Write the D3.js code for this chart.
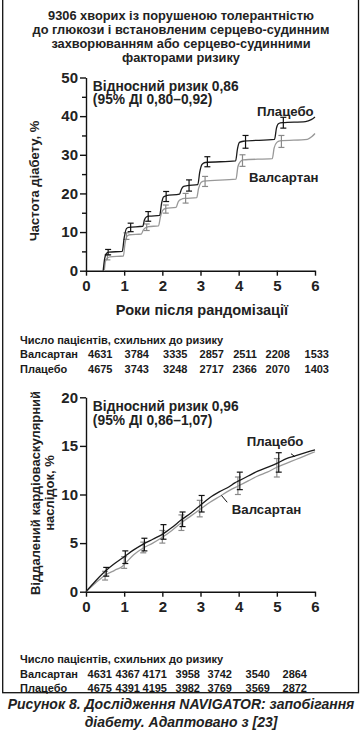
<!DOCTYPE html>
<html>
<head>
<meta charset="utf-8">
<script src="https://cdn.jsdelivr.net/npm/d3@7"></script>
<style>
  body { margin: 0; background: #fff; }
  svg { display: block; font-family: "Liberation Sans", Arial, sans-serif; }
</style>
</head>
<body>
<svg id="chart" width="363" height="730"></svg>
<script>
// ---- data ----
var titleLines = ["9306 хворих із порушеною толерантністю",
                  "до глюкози і встановленим серцево-судинним",
                  "захворюванням або серцево-судинними",
                  "факторами ризику"];
var captionLines = ["Рисунок 8. Дослідження NAVIGATOR: запобігання",
                    "діабету. Адаптовано з [23]"];

var years = [0, 1, 2, 3, 4, 5, 6];
var diabTicks = [0, 10, 20, 30, 40, 50];
var diabMinorTicks = [5, 15, 25, 35, 45];
var cvTicks = [0, 5, 10, 15, 20];

// diabetes incidence, % (step-like curves)
var placeboDiab = [[0.45,0],[0.49,3.2],[0.54,4.5],[0.60,4.8],[0.95,5.0],[1.00,8.5],[1.06,10.9],[1.12,11.2],
  [1.49,11.5],[1.53,13.1],[1.58,13.9],[1.65,14.1],[1.93,14.3],[1.98,17.4],[2.03,19.1],[2.10,19.4],
  [2.45,19.8],[2.50,21.1],[2.56,21.8],[2.65,22.0],[2.93,22.3],[2.98,25.5],[3.04,27.5],[3.12,28.0],
  [3.92,28.4],[3.97,31.6],[4.02,33.2],[4.12,33.5],[4.94,34.0],[4.99,36.9],[5.05,38.1],[5.15,38.3],
  [5.75,38.6],[5.90,39.1],[6.0,39.8]];
var valsartanDiab = [[0.48,0],[0.51,2.4],[0.56,3.3],[0.63,3.6],[0.98,3.8],[1.02,6.9],[1.08,9.0],[1.15,9.3],
  [1.45,9.5],[1.50,10.5],[1.56,11.1],[1.64,11.4],[1.90,11.6],[1.95,13.9],[2.01,15.6],[2.08,16.1],
  [2.36,16.4],[2.42,17.9],[2.50,18.5],[2.58,18.7],[2.90,18.9],[2.95,21.3],[3.01,22.8],[3.08,23.2],
  [3.93,23.7],[3.98,26.9],[4.05,28.3],[4.12,28.7],[4.88,29.0],[4.93,31.8],[5.00,33.2],[5.08,33.6],
  [5.80,34.0],[5.92,34.7],[6.0,35.5]];

var placeboDiabErrT  = [0.58, 1.17, 1.63, 2.10, 2.70, 3.18, 4.18, 5.17];
var placeboDiabErrLo = [4.1, 10.1, 12.8, 17.9, 20.6, 26.9, 31.7, 36.9];
var placeboDiabErrHi = [5.5, 12.3, 15.3, 20.5, 23.5, 29.5, 35.0, 39.7];
var valsartanDiabErrT  = [0.56, 1.06, 1.59, 2.09, 2.61, 3.12, 4.10, 5.12];
var valsartanDiabErrLo = [2.8, 8.1, 10.4, 14.9, 17.5, 21.8, 27.0, 31.9];
var valsartanDiabErrHi = [4.1, 9.8, 12.1, 17.0, 20.0, 24.4, 30.0, 35.0];

// long-term cardiovascular outcome, %
var placeboCV = [[0,0],[0.25,1.1],[0.5,2.1],[0.75,2.9],[1.0,3.6],[1.25,4.3],[1.5,4.9],[1.75,5.4],[2.0,5.9],
  [2.25,6.6],[2.5,7.4],[2.75,8.1],[3.0,8.9],[3.25,9.7],[3.5,10.3],[3.75,10.8],[3.9,11.2],[4.0,11.4],
  [4.25,11.9],[4.5,12.4],[4.75,12.8],[5.0,13.2],[5.25,13.7],[5.5,14.0],[5.75,14.3],[6.0,14.6]];
var valsartanCV = [[0,0],[0.25,0.9],[0.5,1.7],[0.75,2.2],[0.95,2.6],[1.05,3.0],[1.25,3.8],[1.5,4.5],[1.75,5.0],
  [2.0,5.6],[2.25,6.3],[2.5,7.1],[2.75,7.8],[3.0,8.5],[3.25,9.2],[3.5,9.8],[3.75,10.4],[4.0,10.9],
  [4.25,11.4],[4.5,11.9],[4.75,12.3],[5.0,12.8],[5.25,13.2],[5.5,13.6],[5.75,14.0],[6.0,14.4]];

var placeboCVErrT  = [0.53, 1.03, 1.53, 2.03, 2.53, 3.03, 4.03, 5.05];
var placeboCVErrLo = [1.6, 2.9, 4.2, 5.4, 6.7, 8.2, 10.5, 12.3];
var placeboCVErrHi = [2.5, 4.2, 5.5, 6.9, 8.2, 9.9, 12.3, 14.3];
var valsartanCVErrT  = [0.50, 1.00, 1.50, 2.00, 2.50, 2.98, 3.98, 5.00];
var valsartanCVErrLo = [1.2, 2.4, 4.0, 5.0, 6.3, 7.7, 10.0, 11.8];
var valsartanCVErrHi = [2.1, 3.6, 5.1, 6.3, 7.9, 9.4, 11.8, 13.7];

// numbers at risk
var riskHeader = "Число пацієнтів, схильних до ризику";
var riskValsartanDiab = [4631, 3784, 3335, 2857, 2511, 2208, 1533];
var riskPlaceboDiab   = [4675, 3743, 3248, 2717, 2366, 2070, 1403];
var riskValsartanCV = [4631, 4367, 4171, 3958, 3742, 3540, 2864];
var riskPlaceboCV   = [4675, 4391, 4195, 3982, 3769, 3569, 2872];

// ---- layout ----
var svg = d3.select("#chart");
svg.append("rect").attr("width", 363).attr("height", 730).attr("fill", "#fff");
svg.append("rect")
    .attr("x", 2.7).attr("y", -2).attr("width", 355.8).attr("height", 694.7)
    .attr("fill", "none").attr("stroke", "#111").attr("stroke-width", 1.3);

var x = d3.scaleLinear().domain([0, 6]).range([86, 315]);

var DARK = "#1b1b1b", GREY = "#999";

svg.append("g").selectAll("text")
    .data(titleLines).enter().append("text")
    .attr("x", 181).attr("y", function(d, i) { return 19.5 + i * 14; })
    .attr("text-anchor", "middle")
    .style("font-size", "12.8px").style("font-weight", "bold").style("fill", "#222")
    .text(function(d) { return d; });

function panel(opt) {
    var y = d3.scaleLinear().domain(opt.yDomain).range(opt.yRange);
    var g = svg.append("g");

    // axes
    var ax = g.append("g").attr("transform", "translate(0," + opt.yRange[0] + ")")
        .call(d3.axisBottom(x).tickValues(years).tickSize(5).tickSizeOuter(0).tickPadding(5).tickFormat(d3.format("d")));
    var ay = g.append("g").attr("transform", "translate(" + x(0) + ",0)")
        .call(d3.axisLeft(y).tickValues(opt.ticks).tickSize(6).tickSizeOuter(0).tickPadding(2).tickFormat(d3.format("d")));
    if (opt.minor) {
        g.append("g").attr("transform", "translate(" + x(0) + ",0)")
            .call(d3.axisLeft(y).tickValues(opt.minor).tickSize(4).tickFormat(""))
            .select(".domain").remove();
    }
    [ax, ay].forEach(function(a) {
        a.selectAll("path, line").attr("stroke", "#111").attr("stroke-width", 1.4);
        a.selectAll("text").style("font-size", "15px").style("font-weight", "bold")
            .style("font-family", "'Liberation Sans', Arial, sans-serif").attr("fill", "#222");
    });
    g.selectAll(".tick line").attr("stroke", "#111").attr("stroke-width", 1.4);

    var line = d3.line()
        .x(function(d) { return x(d[0]); })
        .y(function(d) { return y(d[1]); })
        .curve(d3.curveMonotoneX);

    function errBars(t, lo, hi, color) {
        var eg = g.append("g").attr("stroke", color).attr("stroke-width", 1.2).attr("fill", "none");
        t.forEach(function(tt, i) {
            eg.append("line").attr("x1", x(tt)).attr("x2", x(tt)).attr("y1", y(lo[i])).attr("y2", y(hi[i]));
            eg.append("line").attr("x1", x(tt) - 3).attr("x2", x(tt) + 3).attr("y1", y(lo[i])).attr("y2", y(lo[i]));
            eg.append("line").attr("x1", x(tt) - 3).attr("x2", x(tt) + 3).attr("y1", y(hi[i])).attr("y2", y(hi[i]));
        });
    }

    g.append("path").datum(opt.vals).attr("d", line)
        .attr("fill", "none").attr("stroke", GREY).attr("stroke-width", 1.3);
    errBars(opt.valsErr[0], opt.valsErr[1], opt.valsErr[2], "#8a8a8a");
    g.append("path").datum(opt.plac).attr("d", line)
        .attr("fill", "none").attr("stroke", DARK).attr("stroke-width", 1.3);
    errBars(opt.placErr[0], opt.placErr[1], opt.placErr[2], "#111");

    // leader lines
    (opt.leaders || []).forEach(function(l) {
        g.append("path").datum(l).attr("d", d3.line().x(function(d) { return x(d[0]); }).y(function(d) { return y(d[1]); }))
            .attr("stroke", "#111").attr("stroke-width", 1);
    });

    // text
    opt.labels.forEach(function(lb) {
        g.append("text").attr("x", x(lb.t)).attr("y", y(lb.v) + 4.5)
            .style("font-size", lb.size + "px").style("font-weight", "bold").style("fill", "#222")
            .text(lb.text);
    });
    opt.ytitle.forEach(function(s, i) {
        g.append("text")
            .attr("transform", "translate(" + (opt.ytitleX + i * 14) + "," + opt.ytitleY + ") rotate(-90)")
            .attr("text-anchor", "middle")
            .style("font-size", "13px").style("font-weight", "bold").style("fill", "#222")
            .text(s);
    });
    if (opt.xtitle) {
        g.append("text").attr("x", 202).attr("y", opt.yRange[0] + 44)
            .attr("text-anchor", "middle")
            .style("font-size", "14.6px").style("font-weight", "bold").style("fill", "#222")
            .text(opt.xtitle);
    }

    // numbers at risk
    var tb = g.append("g").style("font-size", "11px").style("font-weight", "bold").style("fill", "#1a1a1a");
    tb.append("text").attr("x", 20).attr("y", opt.tableY).text(riskHeader);
    [["Валсартан", opt.riskV], ["Плацебо", opt.riskP]].forEach(function(row, r) {
        var ry = opt.tableY + opt.rowGap[r];
        tb.append("text").attr("x", 20).attr("y", ry).text(row[0]);
        tb.selectAll(".n" + r).data(row[1]).enter().append("text")
            .attr("x", function(d, i) { return opt.colEnds[i]; })
            .attr("y", ry).attr("text-anchor", "end")
            .text(function(d) { return d; });
    });
}

panel({
    yDomain: [0, 50], yRange: [270.7, 77.5], ticks: diabTicks, minor: diabMinorTicks,
    vals: valsartanDiab, plac: placeboDiab,
    valsErr: [valsartanDiabErrT, valsartanDiabErrLo, valsartanDiabErrHi],
    placErr: [placeboDiabErrT, placeboDiabErrLo, placeboDiabErrHi],
    labels: [
        { t: 0.18, v: 47.8, size: 13.8, text: "Відносний ризик 0,86" },
        { t: 0.18, v: 44.18, size: 13.8, text: "(95% ДІ 0,80–0,92)" },
        { t: 4.48, v: 41.2, size: 13.2, text: "Плацебо" },
        { t: 4.27, v: 24.1, size: 13.2, text: "Валсартан" }
    ],
    ytitle: ["Частота діабету, %"], ytitleX: 39, ytitleY: 181,
    xtitle: "Роки після рандомізації",
    tableY: 344, rowGap: [14.3, 28.5],
    riskV: riskValsartanDiab, riskP: riskPlaceboDiab,
    colEnds: [112.5, 149, 187.5, 224, 257, 290, 329]
});

panel({
    yDomain: [0, 20], yRange: [591.7, 397.3], ticks: cvTicks,
    vals: valsartanCV, plac: placeboCV,
    valsErr: [valsartanCVErrT, valsartanCVErrLo, valsartanCVErrHi],
    placErr: [placeboCVErrT, placeboCVErrLo, placeboCVErrHi],
    leaders: [[[5.37, 14.2], [5.47, 13.9]], [[3.55, 9.9], [3.70, 9.2]]],
    labels: [
        { t: 0.18, v: 19.1, size: 13.8, text: "Відносний ризик 0,96" },
        { t: 0.18, v: 17.66, size: 13.8, text: "(95% ДІ 0,86–1,07)" },
        { t: 4.21, v: 15.5, size: 13.2, text: "Плацебо" },
        { t: 3.82, v: 8.5, size: 13.2, text: "Валсартан" }
    ],
    ytitle: ["Віддалений кардіоваскулярний", "наслідок, %"], ytitleX: 39.5, ytitleY: 493,
    tableY: 662.5, rowGap: [15.5, 29],
    riskV: riskValsartanCV, riskP: riskPlaceboCV,
    colEnds: [112, 140, 167, 200, 232, 270, 307]
});

svg.append("g").selectAll("text")
    .data(captionLines).enter().append("text")
    .attr("x", 181).attr("y", function(d, i) { return 709 + i * 18; })
    .attr("text-anchor", "middle")
    .style("font-size", "14px").style("font-weight", "bold").style("font-style", "italic").style("fill", "#222")
    .text(function(d) { return d; });
</script>
</body>
</html>
